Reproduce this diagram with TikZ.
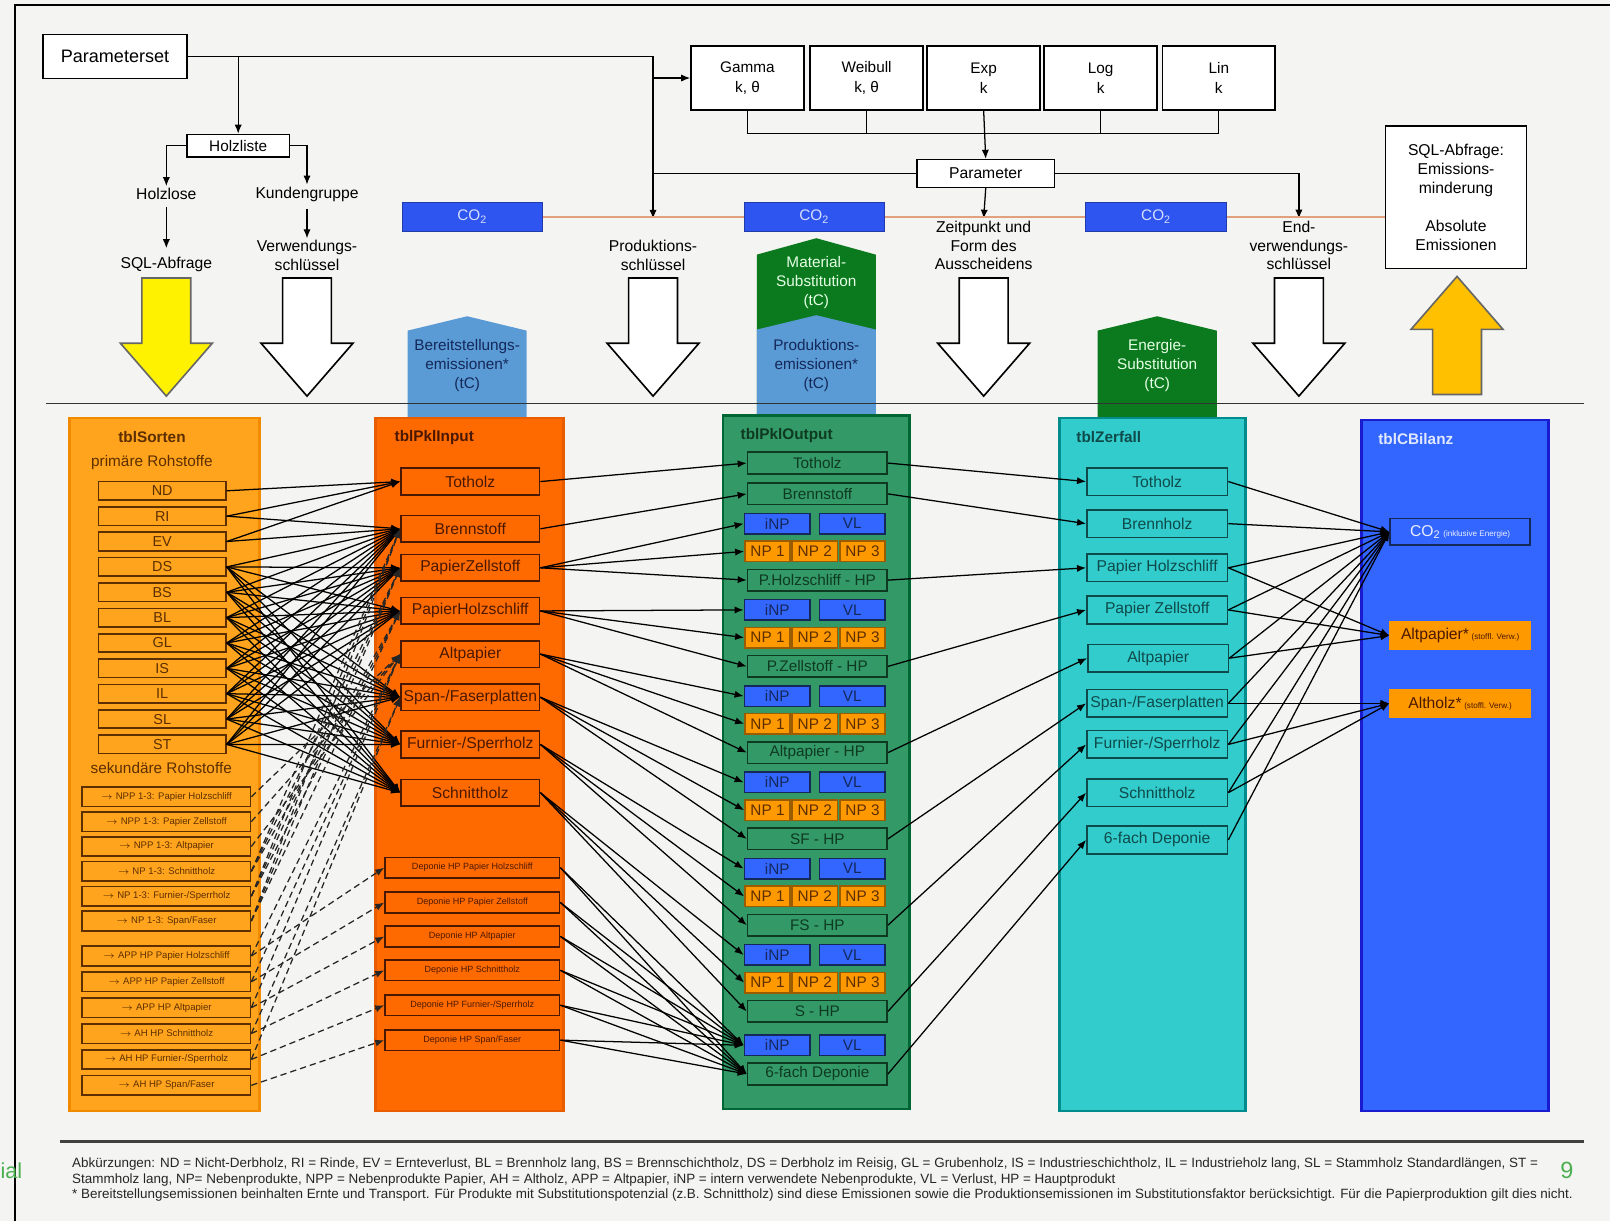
\documentclass[tikz,border=0pt]{standalone}
\usepackage{fontspec}
\setmainfont{Liberation Sans}
\usetikzlibrary{arrows.meta,shapes.arrows}
\definecolor{paper}{HTML}{F4F4F2}
\definecolor{sortfill}{HTML}{FFA41C}
\definecolor{sortline}{HTML}{F28A00}
\definecolor{sortdark}{HTML}{5C2E00}
\definecolor{infill}{HTML}{FF6A00}
\definecolor{inline}{HTML}{E85D00}
\definecolor{indark}{HTML}{4A1800}
\definecolor{outfill}{HTML}{339966}
\definecolor{outline}{HTML}{006633}
\definecolor{outdark}{HTML}{0E3A22}
\definecolor{inpblue}{HTML}{3366FF}
\definecolor{npfill}{HTML}{FF9900}
\definecolor{zfill}{HTML}{33CCCC}
\definecolor{zline}{HTML}{008C8C}
\definecolor{zdark}{HTML}{0F4A4A}
\definecolor{cline}{HTML}{1A1AD0}
\definecolor{co2blue}{HTML}{2F55F0}
\definecolor{lblue}{HTML}{5B9BD5}
\definecolor{subgreen}{HTML}{0B7A1E}
\definecolor{gold}{HTML}{FFC000}
\definecolor{peach}{HTML}{E3A07C}
\definecolor{navy}{HTML}{14285A}
\definecolor{pagegreen}{HTML}{4CAF50}

\begin{document}
\begin{tikzpicture}
  [x=0.02cm, y=-0.02cm,
   towards/.style={-{Latex[length=5pt,width=4pt]}, line width=0.7pt},
   dashto/.style={towards, dash pattern=on 3.5pt off 2.2pt, draw=black!85},
   plainbox/.style={draw, line width=0.9pt, fill=white, align=center, inner sep=0pt},
   lbl/.style={align=center, inner sep=1pt, font=\fontsize{8.7}{10.4}\selectfont},
   distbox/.style={plainbox, minimum width=2.2cm, minimum height=1.24cm, font=\fontsize{8.5}{10.8}\selectfont},
   bigarrow/.style={single arrow, draw=black, line width=0.9pt, inner sep=0.46cm,
     minimum height=2.3cm, single arrow head extend=0.42cm, single arrow tip angle=82},
   co2/.style={draw=co2blue!70!black, fill=co2blue, text=white!80!co2blue,
     minimum width=2.74cm, minimum height=0.56cm, font=\fontsize{8.5}{10}\selectfont},
   pentext/.style={align=center, font=\fontsize{8.5}{10.5}\selectfont},
   tbltitle/.style={font=\bfseries\fontsize{8.5}{10}\selectfont, anchor=west, inner sep=0pt},
   sortbox/.style={draw=sortdark, line width=0.9pt, fill=sortfill, text=sortdark,
     minimum width=2.48cm, minimum height=0.36cm, inner sep=0pt, font=\fontsize{8}{9}\selectfont},
   secbox/.style={sortbox, minimum width=3.28cm, minimum height=0.38cm, font=\fontsize{5.3}{6}\selectfont},
   inbox/.style={draw=indark, line width=0.9pt, fill=infill, text=indark,
     minimum width=2.7cm, minimum height=0.52cm, inner sep=0pt, font=\fontsize{8.7}{10}\selectfont},
   depbox/.style={inbox, minimum width=3.4cm, minimum height=0.4cm, font=\fontsize{5}{6}\selectfont},
   outbox/.style={draw=outdark, line width=0.9pt, fill=outfill, text=outdark,
     minimum width=2.72cm, minimum height=0.42cm, inner sep=0pt, font=\fontsize{8.5}{10}\selectfont},
   inpbox/.style={outbox, draw=navy, fill=inpblue, text=navy, minimum width=1.28cm, minimum height=0.4cm},
   npbox/.style={outbox, draw=npfill!60!black, fill=npfill, text=sortdark, minimum width=0.88cm, minimum height=0.4cm},
   zbox/.style={draw=zdark, line width=0.9pt, fill=zfill, text=zdark,
     minimum width=2.74cm, minimum height=0.54cm, inner sep=0pt, font=\fontsize{8.7}{10}\selectfont},
   cbox/.style={zbox, draw=navy, minimum width=2.72cm, minimum height=0.52cm},
   footline/.style={anchor=west, inner sep=0pt, font=\fontsize{7.45}{9}\selectfont, text=black!85},
  ]

  % page
  \fill[paper] (0,0) rectangle (1568,1189);
  \useasboundingbox (0,0) rectangle (1568,1189);
  \draw[line width=1.2pt] (15,1189) -- (15,5) -- (1568,5);

  % parameter part
  \node[plainbox, minimum width=2.8cm, minimum height=0.86cm, font=\fontsize{10}{12}\selectfont] (paramset) at (112,55) {Parameterset};
  \node[plainbox, minimum width=2cm, minimum height=0.44cm, font=\fontsize{8.5}{10}\selectfont] (holzliste) at (232,142) {Holzliste};
  \node[lbl] (holzlose) at (162,189) {Holzlose};
  \node[lbl] (kunden) at (299,189) {Kundengruppe};
  \node[lbl] (sqlab) at (162,258) {SQL-Abfrage};
  \node[lbl] (verwkey) at (299,249) {Verwendungs-\\schlüssel};
  \node[lbl] (prodkey) at (636,249) {Produktions-\\schlüssel};
  \node[lbl] (zeitpunkt) at (958,239) {Zeitpunkt und\\Form des\\Ausscheidens};
  \node[lbl] (endkey) at (1265,239) {End-\\verwendungs-\\schlüssel};

  \foreach \d/\p/\q/\x in {gamma/Gamma/{k, θ}/728, weibull/Weibull/{k, θ}/844, exp/Exp/k/958, log/Log/k/1072, lin/Lin/k/1187}
    \node[distbox] (\d) at (\x,76) {\p\\\q};
  \node[plainbox, minimum width=2.68cm, minimum height=0.54cm, font=\fontsize{8.7}{10}\selectfont] (param) at (960,169) {Parameter};

  \draw[line width=0.9pt] (paramset.east) -- (paramset.east -| prodkey.north);
  \draw[towards] (paramset.east -| holzliste.north) -- (holzliste.north);
  \draw[towards, shorten >=0.38cm] (paramset.east -| prodkey.north) -- (prodkey.north);
  \draw[towards] (gamma.west -| prodkey.north) -- (gamma.west);
  \draw[line width=0.7pt] (param.west -| prodkey.north) -- (param.west);
  \draw[towards] (param.east) -| (endkey.north);
  \draw[towards] (param.south) -- (zeitpunkt.north);
  \draw[towards] (holzliste.west) -| (holzlose.north);
  \draw[towards] (holzliste.east) -| (kunden.north);
  \draw[towards, shorten <=3pt, shorten >=4pt] (holzlose) -- (sqlab);
  \draw[towards, shorten <=3pt] (kunden) -- (verwkey);

  \coordinate (bus) at (958,130);
  \draw[line width=0.7pt] (gamma.south) |- (bus) -| (lin.south);
  \draw[line width=0.7pt] (weibull.south) -- (weibull.south |- bus);
  \draw[line width=0.7pt] (log.south) -- (log.south |- bus);
  \draw[towards] (exp.south) -- (param.north);

  % CO2 line
  \node[co2] (co2a) at (460,211) {CO\textsubscript{2}};
  \node[co2] (co2b) at (793,211) {CO\textsubscript{2}};
  \node[co2] (co2c) at (1126,211) {CO\textsubscript{2}};
  \node[plainbox, minimum width=2.74cm, minimum height=2.78cm, font=\fontsize{8.7}{10.5}\selectfont] (sqlbox) at (1418,192)
    {SQL-Abfrage:\\Emissions-\\minderung\\[10.5pt]Absolute\\Emissionen};
  \draw[peach, line width=1pt] (co2a.east) -- (co2b.west);
  \draw[peach, line width=1pt] (co2b.east) -- (co2c.west);
  \draw[peach, line width=1pt] (co2c.east) -- (sqlbox.west |- co2c.east);

  % big arrows
  \node[bigarrow, fill=yellow, draw=black!60, shape border rotate=270, anchor=tail] (pfeilsql) at (162,270) {};
  \foreach \n/\x in {pfeilverw/299, pfeilprod/636, pfeilzeit/958, pfeilend/1265}
    \node[bigarrow, fill=white, shape border rotate=270, anchor=tail] (\n) at (\x,270) {};
  \node[bigarrow, fill=gold, draw=black!60, shape border rotate=90, anchor=tail] (pfeilbilanz) at (1419,385) {};

  % emission blocks
  \fill[lblue] (397,407) -- (397,322) -- (455,308) -- (513,322) -- (513,407) -- cycle;
  \fill[subgreen] (737,407) -- (737,248) -- (795,232) -- (853,248) -- (853,407) -- cycle;
  \fill[lblue] (737,407) -- (737,321) -- (795,307) -- (853,321) -- (853,407) -- cycle;
  \fill[subgreen] (1069,407) -- (1069,322) -- (1127,308) -- (1185,322) -- (1185,407) -- cycle;
  \node[pentext, text=navy] (bereit) at (455,356) {Bereitstellungs-\\emissionen*\\(tC)};
  \node[pentext, text=white!90!green] (matsub) at (795,275) {Material-\\Substitution\\(tC)};
  \node[pentext, text=navy] (prodem) at (795,356) {Produktions-\\emissionen*\\(tC)};
  \node[pentext, text=white!90!green] (enersub) at (1127,356) {Energie-\\Substitution\\(tC)};

  \draw[line width=1pt, black!80] (45,393) -- (1543,393);

  % tables
  \filldraw[fill=sortfill, draw=sortline, line width=1.5pt] (68,407) rectangle (253,1082);
  \filldraw[fill=infill, draw=inline, line width=1.5pt] (366,407) rectangle (549,1082);
  \filldraw[fill=outfill, draw=outline, line width=1.5pt] (704,405) rectangle (886,1080);
  \filldraw[fill=zfill, draw=zline, line width=1.5pt] (1032,407) rectangle (1213,1082);
  \filldraw[fill=inpblue, draw=cline, line width=1.5pt] (1326,409) rectangle (1508,1082);

  \node[tbltitle, text=sortdark, anchor=center] (tsorten) at (148,426) {tblSorten};
  \node[tbltitle, text=indark] (tinput) at (384,426) {tblPklInput};
  \node[tbltitle, text=outdark] (toutput) at (721,424) {tblPklOutput};
  \node[tbltitle, text=zdark] (tzerfall) at (1048,426) {tblZerfall};
  \node[tbltitle, text=white!85!inpblue] (tbilanz) at (1342,428) {tblCBilanz};

  % tblSorten
  \node[lbl, text=sortdark, font=\fontsize{8.5}{10}\selectfont] (primaer) at (148,450) {primäre Rohstoffe};
  \node[lbl, text=sortdark, font=\fontsize{8.5}{10}\selectfont] (sekundaer) at (157,748) {sekundäre Rohstoffe};
  \foreach \n [count=\i] in {ND,RI,EV,DS,BS,BL,GL,IS,IL,SL,ST}
    \node[sortbox] (s\n) at (158,{478+24.7*(\i-1)}) {\n};
  \foreach \t [count=\i] in {NPP 1-3: Papier Holzschliff, NPP 1-3: Papier Zellstoff, NPP 1-3: Altpapier,
      NP 1-3: Schnittholz, NP 1-3: Furnier-/Sperrholz, NP 1-3: Span/Faser,
      APP HP Papier Holzschliff, APP HP Papier Zellstoff, APP HP Altpapier,
      AH HP Schnittholz, AH HP Furnier-/Sperrholz, AH HP Span/Faser}{
    \pgfmathsetmacro\yy{\i<7 ? 776+24.2*(\i-1) : 931+25.2*(\i-7)}
    \node[secbox] (sec\i) at (162,\yy) {$\rightarrow$ \t};
  }

  % tblPklInput
  \node[inbox] (inTot) at (458,469) {Totholz};
  \node[inbox] (inBren) at (458,515) {Brennstoff};
  \node[inbox] (inPZ) at (458,553) {PapierZellstoff};
  \node[inbox] (inPH) at (458,595) {PapierHolzschliff};
  \node[inbox] (inAlt) at (458,637) {Altpapier};
  \node[inbox] (inSpan) at (458,679) {Span-/Faserplatten};
  \node[inbox] (inFurn) at (458,725) {Furnier-/Sperrholz};
  \node[inbox] (inSchn) at (458,772) {Schnittholz};
  \node[depbox] (dep1) at (460,845) {Deponie HP Papier Holzschliff};
  \node[depbox] (dep2) at (460,879) {Deponie HP Papier Zellstoff};
  \node[depbox] (dep3) at (460,912) {Deponie HP Altpapier};
  \node[depbox] (dep4) at (460,945) {Deponie HP Schnittholz};
  \node[depbox] (dep5) at (460,979) {Deponie HP Furnier-/Sperrholz};
  \node[depbox] (dep6) at (460,1013) {Deponie HP Span/Faser};

  % tblPklOutput
  \node[outbox] (outTot) at (796,451) {Totholz};
  \node[outbox] (outBren) at (796,481) {Brennstoff};
  \foreach \k/\hp in {1/P.Holzschliff - HP, 2/P.Zellstoff - HP, 3/Altpapier - HP, 4/SF - HP, 5/FS - HP, 6/S - HP}{
    \pgfmathsetmacro\yy{510+84*(\k-1)}
    \node[inpbox] (inp\k) at (757,\yy) {iNP};
    \node[inpbox] (vl\k) at (830,\yy) {VL};
    \node[npbox] (np\k) at (747.5,\yy+27) {NP 1};
    \node[npbox] (npb\k) at (793.5,\yy+27) {NP 2};
    \node[npbox] (npc\k) at (840,\yy+27) {NP 3};
    \node[outbox] (hp\k) at (796,\yy+55) {\hp};
  }
  \node[inpbox] (inp7) at (757,1018) {iNP};
  \node[inpbox] (vl7) at (830,1018) {VL};
  \node[outbox] (outDep) at (796,1046) {6-fach Deponie};

  % tblZerfall
  \node[zbox] (zTot) at (1127,469) {Totholz};
  \node[zbox] (zBren) at (1127,510) {Brennholz};
  \node[zbox] (zPH) at (1127,553) {Papier Holzschliff};
  \node[zbox] (zPZ) at (1127,594) {Papier Zellstoff};
  \node[zbox] (zAlt) at (1128,641) {Altpapier};
  \node[zbox] (zSpan) at (1127,685) {Span-/Faserplatten};
  \node[zbox] (zFurn) at (1127,725) {Furnier-/Sperrholz};
  \node[zbox] (zSchn) at (1127,772) {Schnittholz};
  \node[zbox] (zDep) at (1127,818) {6-fach Deponie};

  % tblCBilanz
  \node[cbox, fill=inpblue, text=white!90!inpblue] (cCO2) at (1422,518)
    {CO\textsubscript{2}\,{\fontsize{4.5}{5}\selectfont (inklusive Energie)}};
  \node[cbox, draw=npfill, fill=npfill, text=indark] (cAltp) at (1422,619)
    {Altpapier*\,{\fontsize{4.5}{5}\selectfont (stoffl. Verw.)}};
  \node[cbox, draw=npfill, fill=npfill, text=indark] (cAlth) at (1422,685)
    {Altholz*\,{\fontsize{4.5}{5}\selectfont (stoffl. Verw.)}};

  % Sorten -> Input
  \draw[towards] (sND.east) -- (inTot.west);
  \foreach \s in {RI,EV}{
    \draw[towards] (s\s.east) -- (inTot.west);
    \draw[towards] (s\s.east) -- (inBren.west);
  }
  \foreach \s in {DS,BS,BL,GL,IS,IL,SL,ST}
    \foreach \t in {inBren,inPZ,inPH,inSpan,inFurn,inSchn}
      \draw[towards] (s\s.east) -- (\t.west);
  \foreach \a/\b in {sec1/inAlt, sec2/inAlt, sec3/inAlt,
      sec4/inBren, sec4/inPZ, sec4/inPH, sec5/inBren, sec5/inPZ, sec5/inPH,
      sec6/inBren, sec6/inPZ, sec6/inPH,
      sec7/inAlt, sec8/inAlt, sec9/inAlt, sec10/inSpan, sec11/inSpan,
      sec7/dep1, sec8/dep2, sec9/dep3, sec10/dep4, sec11/dep5, sec12/dep6}
    \draw[dashto] (\a.east) -- (\b.west);

  % Input -> Output
  \draw[towards] (inTot.east) -- (outTot.west);
  \draw[towards] (inBren.east) -- (outBren.west);
  \foreach \s/\k in {inPZ/1, inPH/2, inAlt/3, inSpan/4, inFurn/5, inSchn/6}{
    \draw[towards] (\s.east) -- (inp\k.west);
    \draw[towards] (\s.east) -- (np\k.west);
    \draw[towards] (\s.east) -- (hp\k.west);
  }
  \foreach \i in {1,...,6}{
    \draw[towards] (dep\i.east) -- (inp7.west);
    \draw[towards] (dep\i.east) -- (outDep.west);
  }

  % Output -> Zerfall
  \foreach \a/\b in {outTot/zTot, outBren/zBren, hp1/zPH, hp2/zPZ, hp3/zAlt, hp4/zSpan, hp5/zFurn, hp6/zSchn, outDep/zDep}
    \draw[towards] (\a.east) -- (\b.west);

  % Zerfall -> CBilanz
  \foreach \z in {zTot,zBren,zPH,zPZ,zAlt,zSpan,zFurn,zSchn,zDep}
    \draw[towards] (\z.east) -- (cCO2.west);
  \foreach \z in {zPH,zPZ,zAlt}
    \draw[towards] (\z.east) -- (cAltp.west);
  \foreach \z in {zSpan,zFurn,zSchn}
    \draw[towards] (\z.east) -- (cAlth.west);

  % footer
  \draw[line width=1.5pt, black!75] (58,1112) -- (1543,1112);
  \node[footline] (abk1) at (70,1134)
    {Abkürzungen: ND = Nicht-Derbholz, RI = Rinde, EV = Ernteverlust, BL = Brennholz lang, BS = Brennschichtholz, DS = Derbholz im Reisig, GL = Grubenholz, IS = Industrieschichtholz, IL = Industrieholz lang, SL = Stammholz Standardlängen, ST =};
  \node[footline] (abk2) at (70,1149)
    {Stammholz lang, NP= Nebenprodukte, NPP = Nebenprodukte Papier, AH = Altholz, APP = Altpapier, iNP = intern verwendete Nebenprodukte, VL = Verlust, HP = Hauptprodukt};
  \node[footline] (fussnote) at (70,1164)
    {* Bereitstellungsemissionen beinhalten Ernte und Transport. Für Produkte mit Substitutionspotenzial (z.B. Schnittholz) sind diese Emissionen sowie die Produktionsemissionen im Substitutionsfaktor berücksichtigt. Für die Papierproduktion gilt dies nicht.};
  \node[anchor=east, inner sep=0pt, text=pagegreen, font=\fontsize{12}{14}\selectfont] (rand) at (22,1140) {ial};
  \node[inner sep=0pt, text=pagegreen, font=\fontsize{13}{15}\selectfont] (seite) at (1526,1140) {9};

\end{tikzpicture}
\end{document}
